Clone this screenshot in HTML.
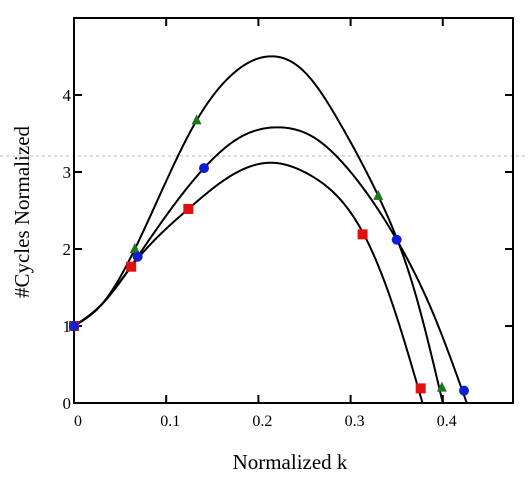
<!DOCTYPE html>
<html><head><meta charset="utf-8"><style>
body{margin:0;background:#fff;}
svg text{font-family:"Liberation Serif",serif;fill:#000;}
</style></head><body>
<svg id="chart" width="528" height="476">
<line x1="0" y1="156" x2="528" y2="156" stroke="#bbb" stroke-dasharray="3,3"/>
<g id="axes"></g>
<g id="curves"></g>
<g id="marks"></g>
<text x="290" y="469" font-size="21" text-anchor="middle">Normalized k</text>
<text transform="translate(29,212) rotate(-90)" font-size="21" text-anchor="middle">#Cycles Normalized</text>
</svg>
<script>
const xTicks=[0,0.1,0.2,0.3,0.4];
const yTicks=[0,1,2,3,4];
const redX=[0,0.062,0.124,0.313,0.376];
const redY=[1,1.77,2.52,2.19,0.19];
const greenX=[0,0.066,0.133,0.330,0.399];
const greenY=[1,2.0,3.67,2.69,0.2];
const blueX=[0,0.069,0.141,0.35,0.423];
const blueY=[1,1.9,3.05,2.12,0.16];
const redCurveX=[0,0.03,0.062,0.124,0.17,0.215,0.256,0.313,0.345,0.378];
const redCurveY=[1,1.28,1.77,2.52,2.95,3.12,2.96,2.22,1.3,0];
const greenCurveX=[0,0.03,0.066,0.133,0.17,0.21,0.25,0.29,0.33,0.37,0.40];
const greenCurveY=[1,1.28,2.0,3.67,4.25,4.5,4.3,3.6,2.69,1.43,0];
const blueCurveX=[0,0.03,0.069,0.141,0.18,0.22,0.26,0.30,0.35,0.39,0.426];
const blueCurveY=[1,1.28,1.9,3.05,3.45,3.58,3.45,3.0,2.12,1.15,0];

const L=74,R=513,T=18,B=403;
const sx=v=>L+v*922;
const sy=v=>B-v*77;
const NS="http://www.w3.org/2000/svg";
function mk(tag,attrs,parent){const e=document.createElementNS(NS,tag);for(const k in attrs)e.setAttribute(k,attrs[k]);parent.appendChild(e);return e;}
const axes=document.getElementById('axes');
const frame=mk('rect',{x:L,y:T,width:R-L,height:B-T,fill:'none',stroke:'#000','stroke-width':2},axes);


xTicks.forEach(t=>{
  const x=sx(t);
  if(t>0){
    const a=mk('line',{x1:x,y1:B,x2:x,y2:B-8,stroke:'#000','stroke-width':2},axes);
    
    
    const b=mk('line',{x1:x,y1:T,x2:x,y2:T+8,stroke:'#000','stroke-width':2},axes);
    
    
  }
  const tx=mk('text',{x:x+4,y:B+23,'font-size':16,'text-anchor':'middle'},axes);
  tx.textContent=String(t);
  
  
});
yTicks.forEach(t=>{
  const y=sy(t);
  if(t>0){
    const a=mk('line',{x1:L,y1:y,x2:L+8,y2:y,stroke:'#000','stroke-width':2},axes);
    
    
    const b=mk('line',{x1:R,y1:y,x2:R-8,y2:y,stroke:'#000','stroke-width':2},axes);
    
    
  }
  const tx=mk('text',{x:L-3,y:y+6,'font-size':17,'text-anchor':'end'},axes);
  tx.textContent=String(t);
  
  
});
function spline(xs,ys){
  const n=xs.length,h=[],a=[],l=[1],mu=[0],z=[0],c=new Array(n).fill(0),b=[],d=[];
  for(let i=0;i<n-1;i++)h[i]=xs[i+1]-xs[i];
  for(let i=1;i<n-1;i++)a[i]=3/h[i]*(ys[i+1]-ys[i])-3/h[i-1]*(ys[i]-ys[i-1]);
  for(let i=1;i<n-1;i++){l[i]=2*(xs[i+1]-xs[i-1])-h[i-1]*mu[i-1];mu[i]=h[i]/l[i];z[i]=(a[i]-h[i-1]*z[i-1])/l[i];}
  for(let j=n-2;j>=0;j--){c[j]=(j===0?0:z[j]-mu[j]*c[j+1]);b[j]=(ys[j+1]-ys[j])/h[j]-h[j]*(c[j+1]+2*c[j])/3;d[j]=(c[j+1]-c[j])/(3*h[j]);}
  return x=>{let i=0;while(i<n-2&&x>xs[i+1])i++;const t=x-xs[i];return ys[i]+b[i]*t+c[i]*t*t+d[i]*t*t*t;};
}
function pathFor(xs,ys){
  const f=spline(xs,ys);const x1=xs[xs.length-1];let d='';
  for(let k=0;k<=300;k++){const x=x1*k/300;d+=(k?' L':'M')+sx(x).toFixed(2)+','+sy(f(x)).toFixed(2);}
  return d;
}
const curves=document.getElementById('curves');
[[redCurveX,redCurveY,'red'],[greenCurveX,greenCurveY,'green'],[blueCurveX,blueCurveY,'blue']].forEach(([xs,ys,n])=>{
  const c=mk('path',{d:pathFor(xs,ys),fill:'none',stroke:'#000','stroke-width':2},curves);
  
  
});
const marks=document.getElementById('marks');
redX.forEach((x,i)=>{
  const m=mk('rect',{x:sx(x)-5,y:sy(redY[i])-5,width:10,height:10,fill:'#e01010'},marks);
  
  
});
greenX.forEach((x,i)=>{
  const cx=sx(x),cy=sy(greenY[i]);
  const m=mk('polygon',{points:`${cx},${cy-6} ${cx-5},${cy+4} ${cx+5},${cy+4}`,fill:'#1a7a1a'},marks);
  
  
});
blueX.forEach((x,i)=>{
  const m=mk('circle',{cx:sx(x),cy:sy(blueY[i]),r:5,fill:'#1020d0'},marks);
  
  
});
</script>
</body></html>
